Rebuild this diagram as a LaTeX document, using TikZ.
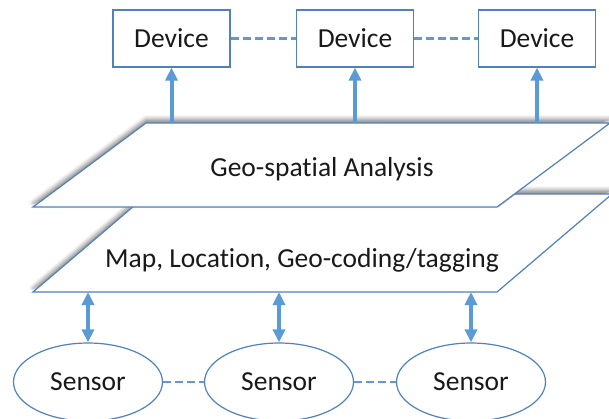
\documentclass[tikz,border=0pt]{standalone}
\usepackage{fontspec}
\setmainfont{Carlito}[Ligatures={NoCommon,NoRare,NoContextual}]
\usetikzlibrary{arrows.meta,shapes.geometric,shadows.blur}
\definecolor{lineblue}{RGB}{79,129,189}
\definecolor{arrblue}{RGB}{91,155,213}
\begin{document}
\begin{tikzpicture}[x=1pt,y=-1pt,
  txt/.style={font=\fontsize{27.5}{30}\selectfont, text=black!90},
  devbox/.style={draw=lineblue, line width=1.2pt, fill=white, minimum width=117pt, minimum height=57pt, inner sep=0pt, txt},
  sensor/.style={ellipse, draw=lineblue, line width=1.2pt, fill=white, minimum width=149pt, minimum height=78pt, inner sep=0pt, txt},
  layer/.style={draw=lineblue, line width=1.2pt, fill=white, blur shadow={shadow xshift=0pt, shadow yshift=4pt, shadow blur radius=4pt, shadow opacity=45}},
  uparr/.style={draw=arrblue, line width=4pt, -{Triangle[width=12pt,length=13pt]}},
  duparr/.style={draw=arrblue, line width=4pt, {Triangle[width=12pt,length=13pt]}-{Triangle[width=12pt,length=13pt]}},
  link/.style={draw=arrblue, line width=2.8pt, dash pattern=on 8pt off 4pt}]
\useasboundingbox (0,0) rectangle (609,418);
% layers
\draw[layer] (33,292) -- (148,194) -- (612,194) -- (497,292) -- cycle;
\draw[layer] (33,207) -- (146,123) -- (610,123) -- (497,207) -- cycle;
\node[txt, anchor=base] (geo) at (322,176) {Geo-spatial Analysis};
\node[txt, anchor=base] (map) at (302,267) {Map, Location, Geo-coding/tagging};
\coordinate (gtop) at (0,123);
\coordinate (mbot) at (0,292);
% devices
\node[devbox] (d1) at (171.5,38.5) {Device};
\node[devbox] (d2) at (355,38.5) {Device};
\node[devbox] (d3) at (537,38.5) {Device};
% sensors
\node[sensor] (s1) at (88,382) {Sensor};
\node[sensor] (s2) at (279,382) {Sensor};
\node[sensor] (s3) at (471,382) {Sensor};
% links
\draw[link] (d1) -- (d2);
\draw[link] (d2) -- (d3);
\draw[link] (s1) -- (s2);
\draw[link] (s2) -- (s3);
% arrows
\foreach \d in {d1,d2,d3}
  \draw[uparr] (\d.south |- gtop) -- (\d.south);
\foreach \s in {s1,s2,s3}
  \draw[duparr] (\s.north |- mbot) -- (\s.north);
\end{tikzpicture}
\end{document}
